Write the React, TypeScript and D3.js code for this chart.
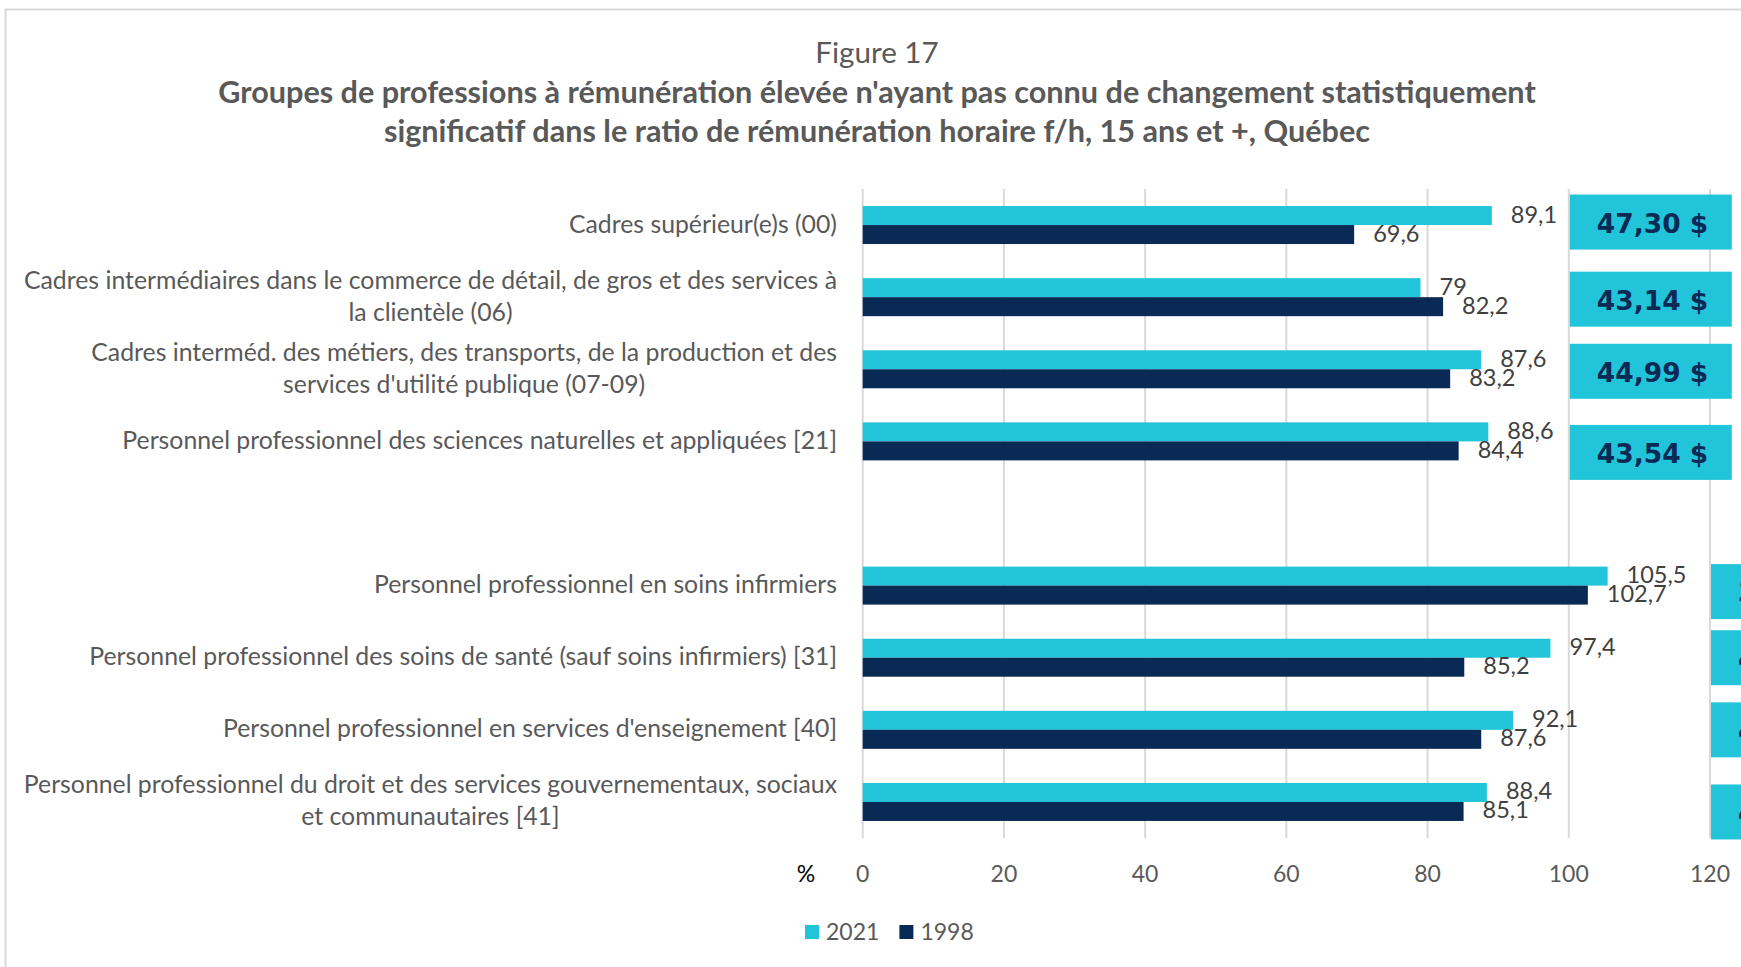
import React, { useEffect, useRef } from "react";
import * as d3 from "d3";

const W = 1741;
const H = 967;

// ---------- data ----------
const categories: string[] = [
  "Cadres supérieur(e)s (00)",
  "Cadres intermédiaires dans le commerce de détail, de gros et des services à\nla clientèle (06)",
  "Cadres interméd. des métiers, des transports, de la production et des\nservices d'utilité publique (07-09)",
  "Personnel professionnel des sciences naturelles et appliquées [21]",
  "",
  "Personnel professionnel en soins infirmiers",
  "Personnel professionnel des soins de santé (sauf soins infirmiers) [31]",
  "Personnel professionnel en services d'enseignement [40]",
  "Personnel professionnel du droit et des services gouvernementaux, sociaux\net communautaires [41]",
];
const seriesNames = ["2021", "1998"];
const values2021: (number | null)[] = [89.1, 79, 87.6, 88.6, null, 105.5, 97.4, 92.1, 88.4];
const values1998: (number | null)[] = [69.6, 82.2, 83.2, 84.4, null, 102.7, 85.2, 87.6, 85.1];
// hourly pay call-outs (lower ones are cut off by the picture edge: only first digit shows)
const payLabels = ["47,30 $", "43,14 $", "44,99 $", "43,54 $", "", "3", "4", "4", "4"];
const payBoxAt: (number | null)[] = [100, 100, 100, 100, null, 120, 120, 120, 120];
const xTicks = [0, 20, 40, 60, 80, 100, 120];

const titleLines = [
  "Groupes de professions à rémunération élevée n'ayant pas connu de changement statistiquement",
  "significatif dans le ratio de rémunération horaire f/h, 15 ans et +, Québec",
];

// ---------- style / layout ----------
const C_CYAN = "#22c4da";
const C_NAVY = "#0a2a56";
const C_TEXT = "#595959";
const C_VAL = "#404040";
const FONT = "Lato, 'Open Sans', sans-serif";
const BOX_FONT = "'DejaVu Sans', Verdana, sans-serif";
const boxDy = [-3, 2, 2, 11, 0, 6, 0, 0, 10];

const fmt = (v: number) => String(v).replace(".", ",");

export default function App() {
  const ref = useRef<SVGSVGElement>(null);

  useEffect(() => {
    document.body.style.margin = "0";
    const svg = d3.select(ref.current);
    svg.selectAll("*").remove();

    // outer frame
    svg.append("rect")
      .attr("x", 5.5).attr("y", 9.5)
      .attr("width", W + 50).attr("height", H + 50)
      .attr("fill", "white").attr("stroke", "#d9d9d9").attr("stroke-width", 2);

    // titles
    svg.append("text")
      .attr("x", 877).attr("y", 63)
      .attr("text-anchor", "middle")
      .attr("font-family", FONT).attr("font-size", 29.6)
      .attr("fill", C_TEXT)
      .text("Figure 17");
    titleLines.forEach((t, i) => {
      svg.append("text")
        .attr("x", 877).attr("y", 103 + i * 39)
        .attr("text-anchor", "middle")
        .attr("font-family", FONT).attr("font-size", 30.6).attr("font-weight", 700)
        .attr("fill", C_TEXT)
        .text(t);
    });

    const x = d3.scaleLinear().domain([0, 120]).range([862.7, 1710]);
    const y = d3.scaleBand<number>()
      .domain(categories.map((_, i) => i))
      .range([189, 838]);
    const ySub = d3.scaleBand<string>().domain(seriesNames).range([-19, 19]);

    // gridlines
    svg.append("g").selectAll("line").data(xTicks).join("line")
      .attr("x1", (d) => x(d)).attr("x2", (d) => x(d))
      .attr("y1", 189).attr("y2", 838)
      .attr("stroke", "#d9d9d9").attr("stroke-width", 2);

    // tick labels
    svg.append("g").selectAll("text").data(xTicks).join("text")
      .attr("x", (d) => x(d)).attr("y", 882)
      .attr("text-anchor", "middle")
      .attr("font-family", FONT).attr("font-size", 23)
      .attr("fill", C_TEXT)
      .text((d) => String(d));
    svg.append("text")
      .attr("x", 806).attr("y", 882)
      .attr("text-anchor", "middle")
      .attr("font-family", FONT).attr("font-size", 23)
      .attr("fill", "#000")
      .text("%");

    // bars
    const series = [
      { name: seriesNames[0], values: values2021, color: C_CYAN },
      { name: seriesNames[1], values: values1998, color: C_NAVY },
    ];
    series.forEach((s) => {
      const g = svg.append("g");
      const rows = s.values
        .map((v, i) => ({ v, i }))
        .filter((d) => d.v !== null) as { v: number; i: number }[];
      g.selectAll("rect").data(rows).join("rect")
        .attr("x", x(0))
        .attr("y", (d) => (y(d.i) as number) + y.bandwidth() / 2 + (ySub(s.name) as number))
        .attr("width", (d) => x(d.v) - x(0))
        .attr("height", ySub.bandwidth())
        .attr("fill", s.color);
      g.selectAll("text").data(rows).join("text")
        .attr("x", (d) => x(d.v) + 19)
        .attr("y", (d) => (y(d.i) as number) + y.bandwidth() / 2 + (ySub(s.name) as number) + ySub.bandwidth() / 2 - 2)
        .attr("dominant-baseline", "central")
        .attr("font-family", FONT).attr("font-size", 23.5)
        .attr("fill", C_VAL)
        .text((d) => fmt(d.v));
    });

    // category labels (multi-line blocks, centred lines, right-aligned block)
    const labelRight = 837;
    categories.forEach((c, i) => {
      if (!c) return;
      const lines = c.split("\n");
      const cy = (y(i) as number) + y.bandwidth() / 2 - 2;
      const g = svg.append("g");
      const texts = lines.map((ln, k) =>
        g.append("text")
          .attr("y", cy + (k - (lines.length - 1) / 2) * 32)
          .attr("dominant-baseline", "central")
          .attr("font-family", FONT).attr("font-size", 24.8)
          .attr("fill", C_TEXT)
          .text(ln)
      );
      const widths = texts.map((t) => (t.node() as SVGTextElement).getComputedTextLength());
      const maxW = Math.max(...widths);
      texts.forEach((t) => t.attr("x", labelRight - maxW / 2).attr("text-anchor", "middle"));
    });

    // hourly pay call-out boxes
    payLabels.forEach((lab, i) => {
      const at = payBoxAt[i];
      if (at === null) return;
      const cy = (y(i) as number) + y.bandwidth() / 2 + boxDy[i];
      const bx = x(at) + 1;
      svg.append("rect")
        .attr("x", bx).attr("y", cy - 27.5)
        .attr("width", 162).attr("height", 55)
        .attr("fill", C_CYAN);
      svg.append("text")
        .attr("x", bx + 27).attr("y", cy + 1)
        .attr("dominant-baseline", "central")
        .attr("font-family", BOX_FONT).attr("font-size", 26.5).attr("font-weight", 700)
        .attr("fill", C_NAVY)
        .text(lab);
    });

    // legend
    const lg = svg.append("g");
    let lx = 805;
    series.forEach((s) => {
      lg.append("rect").attr("x", lx).attr("y", 925).attr("width", 14).attr("height", 14).attr("fill", s.color);
      const t = lg.append("text")
        .attr("x", lx + 21).attr("y", 940)
        .attr("font-family", FONT).attr("font-size", 23)
        .attr("fill", C_TEXT)
        .text(s.name);
      const w = (t.node() as SVGTextElement).getComputedTextLength();
      lx = lx + 21 + w + 20;
    });
  }, []);

  return (
    <div style={{ width: W, height: H, overflow: "hidden" }}>
      <svg ref={ref} width={W} height={H} style={{ display: "block", background: "white" }} />
    </div>
  );
}
